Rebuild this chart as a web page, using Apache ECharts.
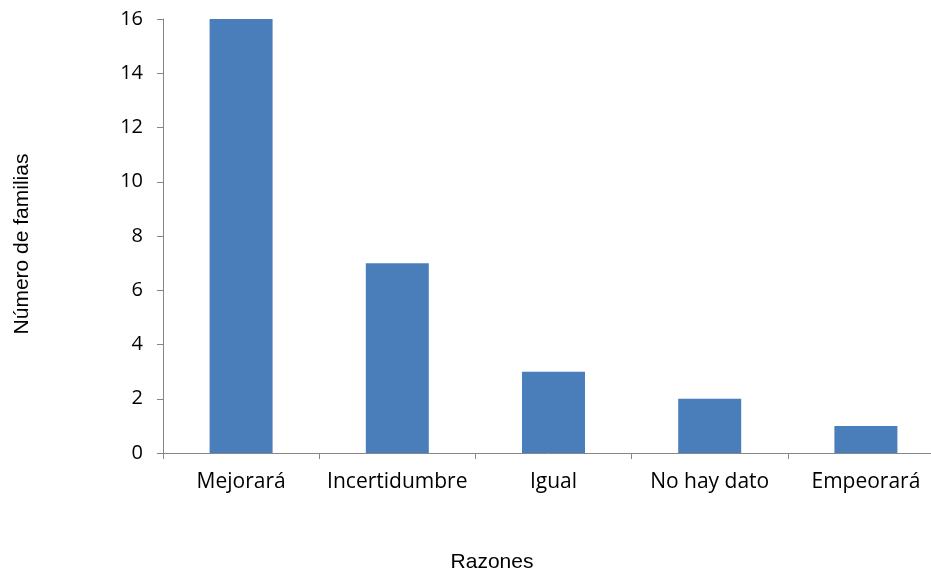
<!DOCTYPE html>
<html>
<head>
<meta charset="utf-8">
<script src="https://cdn.jsdelivr.net/npm/echarts@6/dist/echarts.min.js"></script>
<style>
  html, body { margin: 0; padding: 0; background: #fff; }
  #box { width: 931px; height: 573px; }
</style>
</head>
<body>
<div id="box"></div>
<script>
var categories = ['Mejorará', 'Incertidumbre', 'Igual', 'No hay dato', 'Empeorará'];
var familias = [16, 7, 3, 2, 1];

var myChart = echarts.init(document.getElementById('box'));
var option = {
	animation: false,
	title: [
		{
			text: 'Razones',
			left: 487,
			top: 547,
			textAlign: 'center',
			textStyle: { fontFamily: 'Liberation Sans', fontSize: 21, fontWeight: 'normal', color: '#000' }
		}
	],
	graphic: [
		{
			type: 'text',
			x: 22,
			y: 244,
			rotation: Math.PI / 2,
			style: {
				text: 'Número de familias',
				font: '21px "Liberation Sans"',
				fill: '#000',
				align: 'center',
				verticalAlign: 'middle'
			}
		}
	],
	grid: {
		left: 163,
		top: 19,
		width: 781,
		height: 434,
		outerBoundsMode: 'none'
	},
	xAxis: {
		type: 'category',
		data: categories,
		axisLine: { lineStyle: { color: '#868686', width: 1 } },
		axisTick: { show: true, length: 6, lineStyle: { color: '#868686' } },
		axisLabel: {
			interval: 0,
			margin: 19,
			color: '#000',
			fontFamily: 'Open Sans',
			fontSize: 21
		}
	},
	yAxis: {
		type: 'value',
		min: 0,
		max: 16,
		interval: 2,
		splitLine: { show: false },
		axisLine: { show: true, lineStyle: { color: '#868686', width: 1 } },
		axisTick: { show: true, length: 6, lineStyle: { color: '#868686' } },
		axisLabel: {
			margin: 20,
			color: '#000',
			fontFamily: 'Open Sans',
			fontSize: 20
		}
	},
	series: [
		{
			type: 'bar',
			data: familias,
			barWidth: 63,
			itemStyle: { color: '#4a7ebb' }
		}
	]
};
myChart.setOption(option);
</script>
</body>
</html>
